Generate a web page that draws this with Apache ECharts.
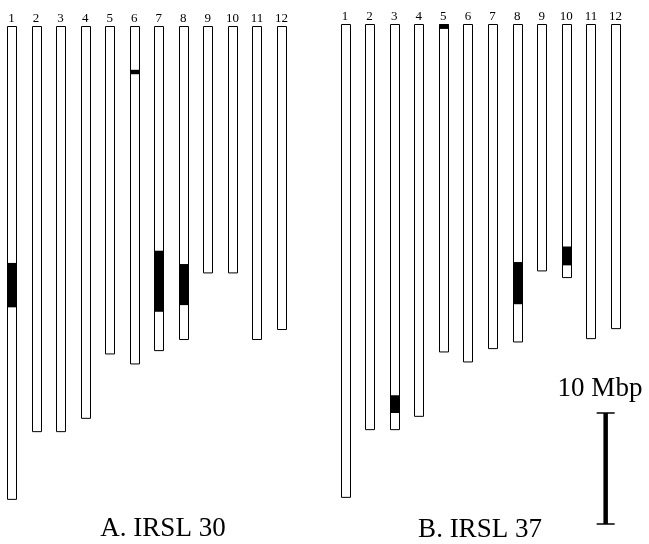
<!DOCTYPE html>
<html>
<head>
<meta charset="utf-8">
<script src="https://cdn.jsdelivr.net/npm/echarts@6/dist/echarts.min.js"></script>
<style>html,body{margin:0;padding:0;background:#fff;}#c{width:649px;height:544px;}</style>
</head>
<body>
<div id="c"></div>
<script>
// Chromosome labels
var categories = ['1','2','3','4','5','6','7','8','9','10','11','12'];
// Chromosome lengths (Mbp)
var lengthsA = [42.6, 36.5, 36.5, 35.3, 29.5, 30.4, 29.2, 28.2, 22.2, 22.2, 28.2, 27.3];
var lengthsB = [42.6, 36.5, 36.5, 35.3, 29.5, 30.4, 29.2, 28.6, 22.2, 22.8, 28.3, 27.4];
// Introgressed segments [chromosome index, start Mbp, end Mbp]
var segmentsA = [[0, 21.3, 25.3], [5, 3.9, 4.3], [6, 20.2, 25.7], [7, 21.4, 25.1]];
var segmentsB = [[2, 33.4, 35.0], [4, 0.0, 0.4], [7, 21.4, 25.2], [9, 20.0, 21.7]];
// Scale bar: [x position (chromosome index units), start Mbp, end Mbp]
var scaleBar = [[10.6, 35.0, 45.0]];
var scaleLabel = '10 Mbp';
var titles = ['A. IRSL 30', 'B. IRSL 37'];

var FONT = '"Liberation Serif", "DejaVu Serif", serif';
var PX_PER_MBP = 11.1;
var MAXV = 45;

function chromRender(params, api) {
  var i = api.value(0);
  var p0 = api.coord([i, 0]);
  var p1 = api.coord([i, api.value(1)]);
  var x = Math.round(p0[0] - 4.5) + 0.5;
  return {
    type: 'rect',
    shape: {x: x, y: p0[1], width: 9, height: p1[1] - p0[1]},
    style: {fill: '#fff', stroke: '#000', lineWidth: 1}
  };
}
function segRender(params, api) {
  var i = api.value(0);
  var p0 = api.coord([i, api.value(1)]);
  var p1 = api.coord([i, api.value(2)]);
  var x = Math.round(p0[0] - 4.5);
  return {
    type: 'rect',
    shape: {x: x, y: p0[1], width: 10, height: p1[1] - p0[1]},
    style: {fill: '#000'}
  };
}
function scaleRender(params, api) {
  var p0 = api.coord([api.value(0), api.value(1)]);
  var p1 = api.coord([api.value(0), api.value(2)]);
  var cx = p0[0];
  return {
    type: 'group',
    children: [
      {type: 'line', shape: {x1: cx, y1: p0[1], x2: cx, y2: p1[1]}, style: {stroke: '#000', lineWidth: 4.5}},
      {type: 'line', shape: {x1: cx - 9, y1: p0[1], x2: cx + 9, y2: p0[1]}, style: {stroke: '#000', lineWidth: 1.5}},
      {type: 'line', shape: {x1: cx - 9, y1: p1[1], x2: cx + 9, y2: p1[1]}, style: {stroke: '#000', lineWidth: 1.5}}
    ]
  };
}

function xAxis(gi) {
  return {
    type: 'value', gridIndex: gi, min: 0, max: 11, interval: 1, position: 'top',
    axisLine: {show: false}, axisTick: {show: false}, splitLine: {show: false},
    axisLabel: {show: true, margin: 1.5, fontFamily: FONT, fontSize: 13, color: '#000',
      formatter: function (v) { return categories[v] || ''; }}
  };
}
function yAxis(gi) {
  return {
    type: 'value', gridIndex: gi, min: 0, max: MAXV, inverse: true, show: false
  };
}

var chart = echarts.init(document.getElementById('c'), null, {renderer: 'canvas'});
chart.setOption({
  animation: false,
  backgroundColor: '#fff',
  grid: [
    {left: 11.5, top: 26.5, width: 270, height: MAXV * PX_PER_MBP},
    {left: 345, top: 24.5, width: 270.5, height: MAXV * PX_PER_MBP}
  ],
  xAxis: [xAxis(0), xAxis(1)],
  yAxis: [yAxis(0), yAxis(1)],
  series: [
    {type: 'custom', xAxisIndex: 0, yAxisIndex: 0, clip: false, renderItem: chromRender,
      data: lengthsA.map(function (v, i) { return [i, v]; })},
    {type: 'custom', xAxisIndex: 0, yAxisIndex: 0, clip: false, renderItem: segRender, data: segmentsA},
    {type: 'custom', xAxisIndex: 1, yAxisIndex: 1, clip: false, renderItem: chromRender,
      data: lengthsB.map(function (v, i) { return [i, v]; })},
    {type: 'custom', xAxisIndex: 1, yAxisIndex: 1, clip: false, renderItem: segRender, data: segmentsB},
    {type: 'custom', xAxisIndex: 1, yAxisIndex: 1, clip: false, renderItem: scaleRender, data: scaleBar}
  ],
  graphic: [
    {type: 'text', style: {text: titles[0], x: 163, y: 529, align: 'center', verticalAlign: 'middle', fontFamily: FONT, fontSize: 27, fill: '#000'}},
    {type: 'text', style: {text: titles[1], x: 480, y: 530, align: 'center', verticalAlign: 'middle', fontFamily: FONT, fontSize: 27, fill: '#000'}},
    {type: 'text', style: {text: scaleLabel, x: 600, y: 389, align: 'center', verticalAlign: 'middle', fontFamily: FONT, fontSize: 27, fill: '#000'}}
  ]
});
</script>
</body>
</html>
